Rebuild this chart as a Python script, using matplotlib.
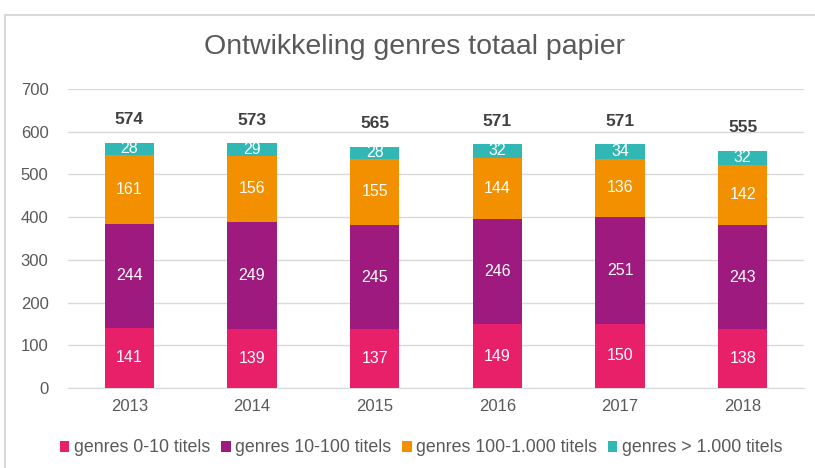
import matplotlib
matplotlib.use("Agg")
import matplotlib.pyplot as plt
from matplotlib.patches import Rectangle
import numpy as np

plt.rcParams['font.family'] = ['Liberation Sans', 'DejaVu Sans']

years = ['2013', '2014', '2015', '2016', '2017', '2018']
g0_10 = [141, 139, 137, 149, 150, 138]
g10_100 = [244, 249, 245, 246, 251, 243]
g100_1000 = [161, 156, 155, 144, 136, 142]
g1000 = [28, 29, 28, 32, 34, 32]
totals = [574, 573, 565, 571, 571, 555]
series_names = ['genres 0-10 titels', 'genres 10-100 titels',
                'genres 100-1.000 titels', 'genres > 1.000 titels']
colors = ['#E8206A', '#9E1A7E', '#F39000', '#31B7B4']

fig = plt.figure(figsize=(8.15, 4.68), dpi=100)
ax = fig.add_axes([68/815, 1-388/468, (804-68)/815, (388-89)/468])

x = np.arange(len(years))
bottom = np.zeros(len(years))
for vals, c, name in zip([g0_10, g10_100, g100_1000, g1000], colors, series_names):
    ax.bar(x, vals, width=0.4, bottom=bottom, color=c, label=name, zorder=3)
    for xi, b, v in zip(x, bottom, vals):
        ax.text(xi, b + v/2, str(v), ha='center', va='center', color='white',
                fontsize=11.5, zorder=4)
    bottom += np.array(vals)

for xi, t in zip(x, totals):
    ax.text(xi, t + 54, str(t), ha='center', va='center', color='#404040',
            fontsize=12.5, fontweight='bold')

ax.set_ylim(0, 700)
ax.set_xlim(-0.5, len(years) - 0.5)
ax.set_yticks(range(0, 701, 100))
ax.set_xticks(x)
ax.set_xticklabels(years)
ax.yaxis.grid(True, color='#D9D9D9', linewidth=1, zorder=0)
ax.set_axisbelow(True)
for s in ['top', 'right', 'left']:
    ax.spines[s].set_visible(False)
ax.spines['bottom'].set_color('#D9D9D9')
ax.tick_params(axis='both', length=0, labelsize=12, colors='#595959', pad=8)
ax.tick_params(axis='y', pad=14)

fig.text(0.508, 1-47/468, 'Ontwikkeling genres totaal papier', ha='center', va='center',
         fontsize=20.5, color='#595959')

handles, labels = ax.get_legend_handles_labels()
fig.legend(handles, labels, loc='center', bbox_to_anchor=(421/815, 1-448/468), ncol=4,
           frameon=False, fontsize=12.8, handlelength=0.55, handleheight=0.55,
           handletextpad=0.25, columnspacing=0.6, labelcolor='#595959')

fig.patches.append(Rectangle((5/815, -0.1), 1.2, 1-15/468+0.1, transform=fig.transFigure,
                             fill=False, edgecolor='#D9D9D9', linewidth=1.5))

fig.savefig('out.png', dpi=100)
